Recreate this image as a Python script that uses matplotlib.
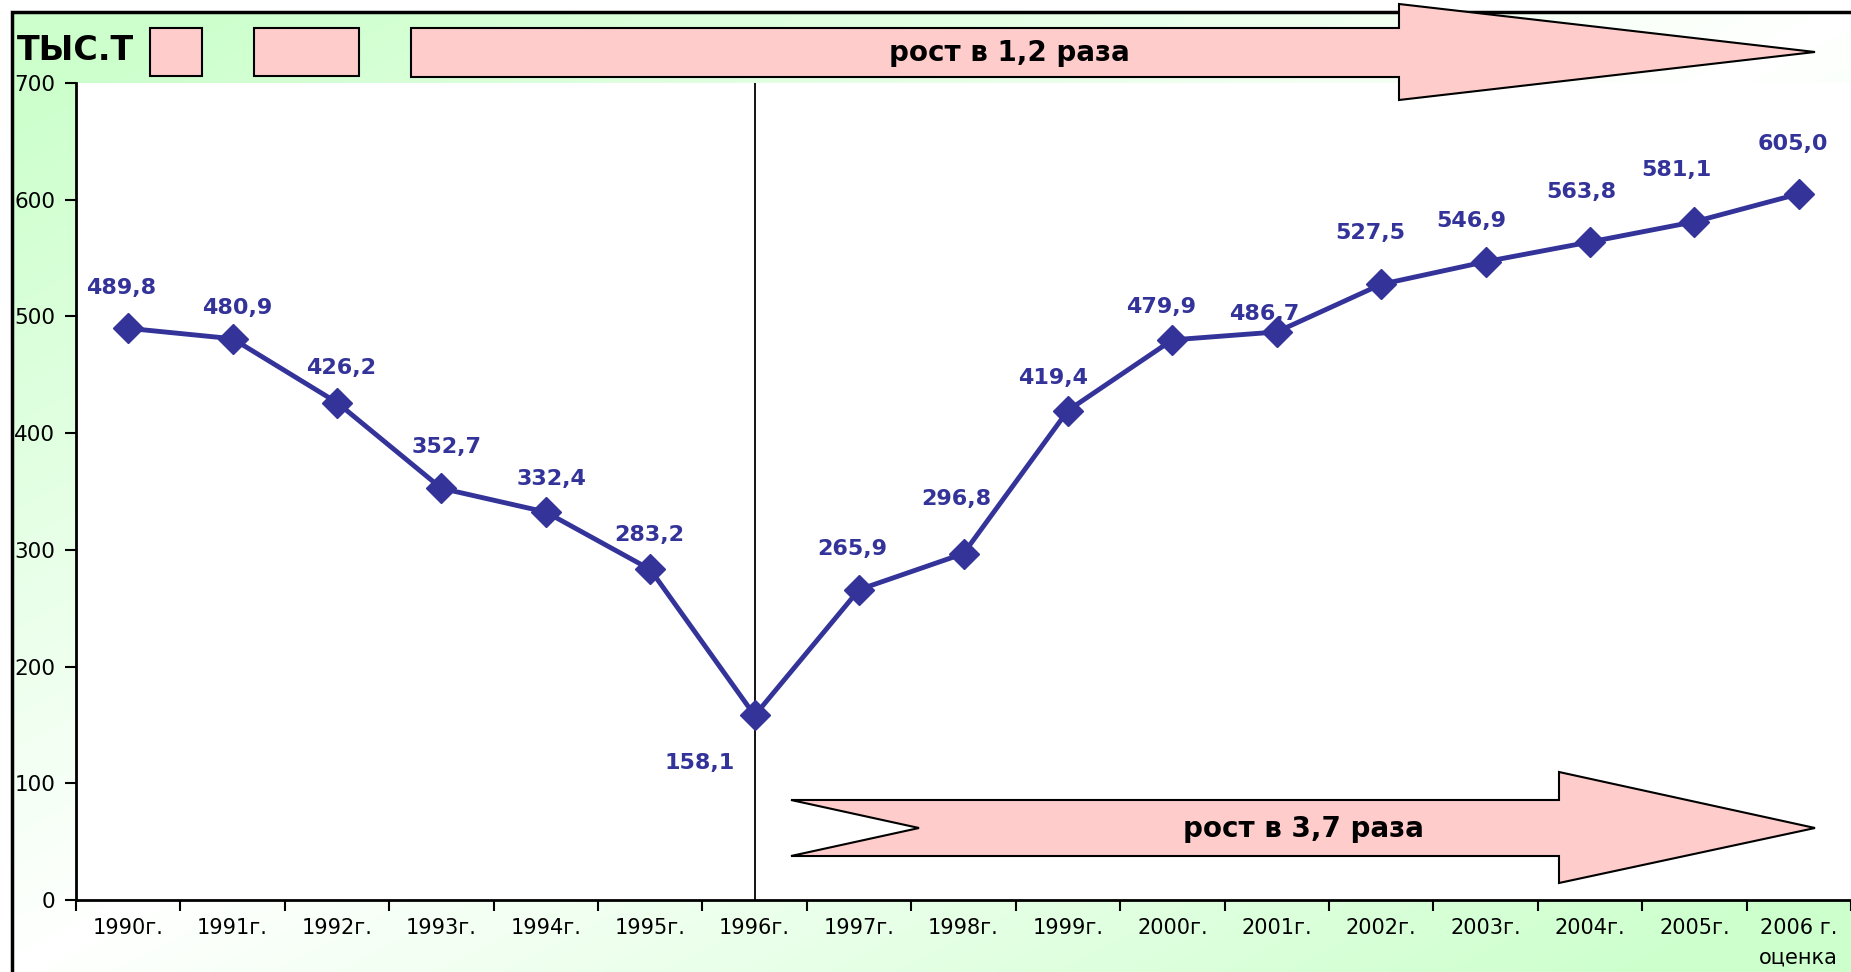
import numpy as np
import matplotlib.pyplot as plt
from matplotlib.patches import Polygon, Rectangle

# Données
years = ["1990г.", "1991г.", "1992г.", "1993г.", "1994г.", "1995г.", "1996г.",
         "1997г.", "1998г.", "1999г.", "2000г.", "2001г.", "2002г.", "2003г.",
         "2004г.", "2005г.", "2006 г.\nоценка"]
values = [489.8, 480.9, 426.2, 352.7, 332.4, 283.2, 158.1, 265.9, 296.8, 419.4,
          479.9, 486.7, 527.5, 546.9, 563.8, 581.1, 605.0]
y_ticks = [0, 100, 200, 300, 400, 500, 600, 700]
unit_label = "ТЫС.Т"
growth_top = "рост в 1,2 раза"
growth_bottom = "рост в 3,7 раза"

# Décalage des étiquettes (pixels, dx, dy vers le haut)
label_off = [(-7, 40), (5, 31), (4, 35), (5, 41), (6, 33), (-1, 34), (-55, -48),
             (-7, 41), (-7, 55), (-15, 33), (-11, 33), (-13, 18), (-11, 51),
             (-14, 41), (-9, 50), (-18, 52), (-6, 50)]

W, H = 1851, 972
navy = "#333399"
pink = "#FFCCCC"

fig = plt.figure(figsize=(W / 100, H / 100), dpi=100)

# Fond avec dégradé vert
bg = fig.add_axes([0, 0, 1, 1], zorder=0)
bg.set_xlim(0, W)
bg.set_ylim(H, 0)
bg.axis("off")
u = np.linspace(0, 1, 300)
v = np.linspace(0, 1, 200)
U, V = np.meshgrid(u, v)
t = np.clip(np.abs(U + V - 1) * 1.1, 0, 1)[..., None]
green = np.array([0.80, 1.0, 0.80])
white = np.array([1.0, 1.0, 1.0])
img = white * (1 - t) + green * t
bg.imshow(img, extent=[12, W, H, 12], aspect="auto", interpolation="bilinear")
bg.plot([12, 12, W], [H, 12, 12], color="black", lw=2.5, solid_joinstyle="miter")

# Graphique principal
ax = fig.add_axes([76 / W, (H - 900) / H, (W - 76) / W, (900 - 83) / H], zorder=1)
ax.set_facecolor("white")
x = np.arange(len(values))
ax.plot(x, values, color=navy, lw=3.5, marker="D", markersize=15, zorder=3)
ax.axvline(6, color="black", lw=1.3, zorder=2)
for i, val in enumerate(values):
    dx, dy = label_off[i]
    ax.annotate(f"{val:.1f}".replace(".", ","), (i, val),
                xytext=(dx * 0.72, dy * 0.72), textcoords="offset points",
                ha="center", va="center", color=navy, fontsize=16,
                fontweight="bold", zorder=4)

ax.set_xlim(-0.5, len(values) - 0.5)
ax.set_ylim(0, 700)
ax.set_yticks(y_ticks)
ax.set_yticklabels([str(t) for t in y_ticks], fontsize=15.5)
ax.set_xticks(x)
ax.set_xticklabels(years, fontsize=15, linespacing=1.6, va="top")
ax.set_xticks(np.arange(-0.5, len(values), 1), minor=True)
ax.tick_params(axis="x", which="major", length=0, pad=13)
ax.tick_params(axis="x", which="minor", length=8, width=1.5, direction="out")
ax.tick_params(axis="y", length=8, width=1.5, direction="out", pad=7)
for s in ["top", "right"]:
    ax.spines[s].set_visible(False)
for s in ["left", "bottom"]:
    ax.spines[s].set_linewidth(2)

# Flèches et textes
ov = fig.add_axes([0, 0, 1, 1], zorder=2)
ov.set_xlim(0, W)
ov.set_ylim(H, 0)
ov.axis("off")
ov.patch.set_alpha(0)

ov.add_patch(Rectangle((150, 28), 52, 48, fc=pink, ec="black", lw=1.5))
ov.add_patch(Rectangle((254, 28), 105, 48, fc=pink, ec="black", lw=1.5))
top_arrow = [(411, 28), (1399, 28), (1399, 4), (1815, 52), (1399, 100),
             (1399, 77), (411, 77)]
ov.add_patch(Polygon(top_arrow, closed=True, fc=pink, ec="black", lw=1.5,
                     joinstyle="miter"))
bottom_arrow = [(791, 800), (1559, 800), (1559, 772), (1815, 828), (1559, 883),
                (1559, 856), (791, 856), (919, 828)]
ov.add_patch(Polygon(bottom_arrow, closed=True, fc=pink, ec="black", lw=1.5,
                     joinstyle="miter"))

ov.text(17, 51, unit_label, fontsize=24, fontweight="bold", ha="left", va="center")
ov.text(1009, 53, growth_top, fontsize=20, fontweight="bold", ha="center", va="center")
ov.text(1303, 829, growth_bottom, fontsize=20, fontweight="bold", ha="center", va="center")

fig.savefig("out.png", dpi=100)
